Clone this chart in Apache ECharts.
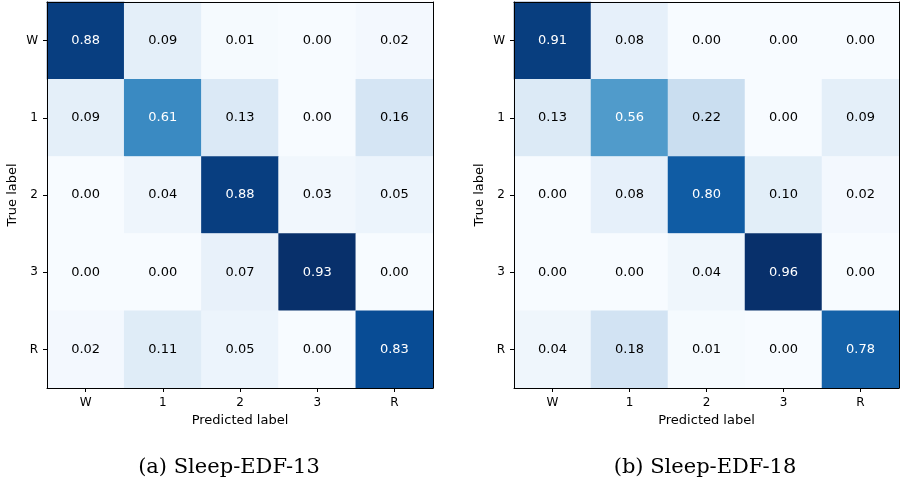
<!DOCTYPE html>
<html><head><meta charset="utf-8">
<script src="https://cdn.jsdelivr.net/npm/echarts@6/dist/echarts.min.js"></script>
<style>html,body{margin:0;padding:0;background:#fff}#c{width:900px;height:484px}</style>
</head><body><div id="c"></div>
<script>
const classes = ['W', '1', '2', '3', 'R'];
const matrix13 = [
  [0.88, 0.09, 0.01, 0.00, 0.02],
  [0.09, 0.61, 0.13, 0.00, 0.16],
  [0.00, 0.04, 0.88, 0.03, 0.05],
  [0.00, 0.00, 0.07, 0.93, 0.00],
  [0.02, 0.11, 0.05, 0.00, 0.83]
];
const matrix18 = [
  [0.91, 0.08, 0.00, 0.00, 0.00],
  [0.13, 0.56, 0.22, 0.00, 0.09],
  [0.00, 0.08, 0.80, 0.10, 0.02],
  [0.00, 0.00, 0.04, 0.96, 0.00],
  [0.04, 0.18, 0.01, 0.00, 0.78]
];
const captions = ['(a) Sleep-EDF-13', '(b) Sleep-EDF-18'];
const blues = ['#f7fbff','#deebf7','#c6dbef','#9ecae1','#6baed6','#4292c6','#2171b5','#08519c','#08306b'];

const mats = [matrix13, matrix18];
const grids = [
  {left: 47, top: 2, width: 386, height: 386},
  {left: 514, top: 2, width: 385, height: 386}
];
const captionCenters = [224, 700];
const xAxis = [], yAxis = [], series = [], visualMap = [], title = [];
const font = 'DejaVu Sans';
const frameLine = {show: true, lineStyle: {color: '#000', width: 1}};
mats.forEach((m, gi) => {
  let mn = Infinity, mx = -Infinity;
  const data = [];
  m.forEach((row, r) => row.forEach((v, c) => { data.push([c, r, v]); mn = Math.min(mn, v); mx = Math.max(mx, v); }));
  const thresh = (mx + mn) / 2;
  xAxis.push({type: 'category', gridIndex: gi, data: classes, position: 'bottom', z: 5,
    axisLine: frameLine,
    axisTick: {show: true, alignWithLabel: true, length: 4, lineStyle: {color: '#000'}},
    axisLabel: {color: '#000', fontFamily: font, fontSize: 12, margin: 9},
    splitLine: {show: false},
    name: 'Predicted label', nameLocation: 'middle', nameGap: 25,
    nameTextStyle: {color: '#000', fontFamily: font, fontSize: 13}});
  xAxis.push({type: 'category', gridIndex: gi, data: classes, position: 'top', z: 5,
    axisLine: frameLine,
    axisTick: {show: false}, axisLabel: {show: false}, splitLine: {show: false}});
  yAxis.push({type: 'category', gridIndex: gi, data: classes, inverse: true, position: 'left', z: 5,
    axisLine: frameLine,
    axisTick: {show: true, alignWithLabel: true, length: 4, lineStyle: {color: '#000'}},
    axisLabel: {color: '#000', fontFamily: font, fontSize: 12, margin: 9},
    splitLine: {show: false},
    name: 'True label', nameLocation: 'middle', nameGap: 28, nameRotate: 90,
    nameTextStyle: {color: '#000', fontFamily: font, fontSize: 13}});
  yAxis.push({type: 'category', gridIndex: gi, data: classes, inverse: true, position: 'right', z: 5,
    axisLine: frameLine,
    axisTick: {show: false}, axisLabel: {show: false}, splitLine: {show: false}});
  visualMap.push({show: false, type: 'continuous', min: mn, max: mx, seriesIndex: gi, dimension: 2,
    inRange: {color: blues}});
  series.push({type: 'heatmap', xAxisIndex: gi * 2, yAxisIndex: gi * 2, z: 1,
    data: data.map(d => ({value: d, label: {color: d[2] > thresh ? '#fff' : '#000'}})),
    label: {show: true, fontFamily: font, fontSize: 13,
      formatter: p => p.value[2].toFixed(2)},
    itemStyle: {borderWidth: 0},
    emphasis: {disabled: true}});
  title.push({text: captions[gi], left: captionCenters[gi], top: 452, textAlign: 'center',
    textStyle: {fontFamily: 'DejaVu Serif', fontSize: 21, fontWeight: 'normal', color: '#000'}});
});
const chart = echarts.init(document.getElementById('c'), null, {renderer: 'canvas'});
chart.setOption({animation: false, title, grid: grids, xAxis, yAxis, visualMap, series});
</script></body></html>
